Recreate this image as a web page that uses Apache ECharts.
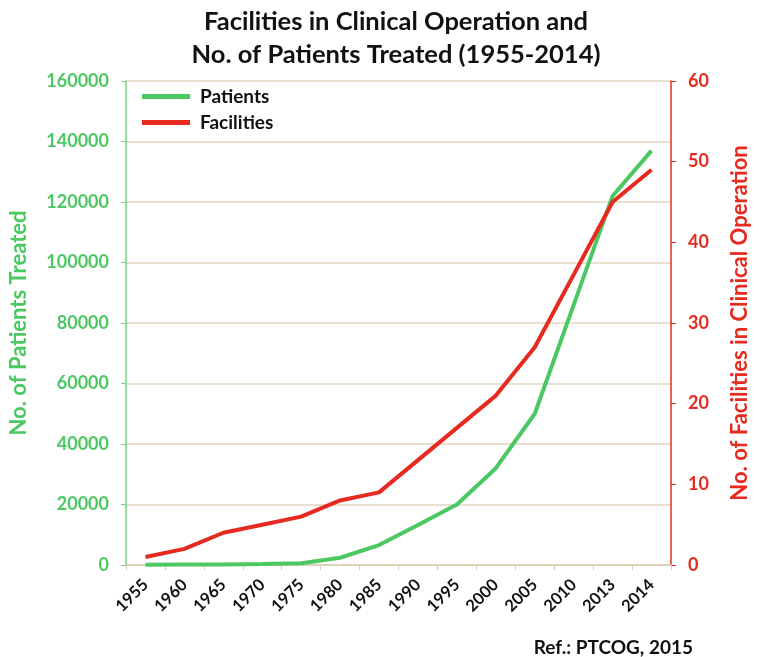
<!DOCTYPE html>
<html>
<head>
<meta charset="utf-8">
<script src="https://cdn.jsdelivr.net/npm/echarts@6/dist/echarts.min.js"></script>
<style>
  html, body { margin: 0; padding: 0; background: #fff; }
  #chart { width: 759px; height: 657px; }
</style>
</head>
<body>
<div id="chart"></div>
<script>
// 年份
var years = ["1955", "1960", "1965", "1970", "1975", "1980", "1985", "1990", "1995", "2000", "2005", "2010", "2013", "2014"];
// 治疗人数
var patients = [50, 150, 200, 350, 600, 2400, 6600, 13200, 20000, 32000, 50000, 86000, 122000, 137000];
// 设施数量
var facilities = [1, 2, 4, 5, 6, 8, 9, 13, 17, 21, 27, 36, 45, 49];

var green = "#4cc862";
var red = "#e62a1f";
var font = "Lato";

var chart = echarts.init(document.getElementById("chart"));
chart.setOption({
  animation: false,
  textStyle: { fontFamily: font },
  title: {
    text: "Facilities in Clinical Operation and\nNo. of Patients Treated (1955-2014)",
    left: 391,
    top: 0,
    textAlign: "center",
    textStyle: {
      fontFamily: font,
      fontSize: 25.5,
      fontWeight: "bold",
      color: "#111",
      lineHeight: 33,
    },
  },
  legend: {
    orient: "vertical",
    left: 137,
    top: 82,
    itemWidth: 48,
    itemHeight: 5,
    itemGap: 7,
    icon: "rect",
    textStyle: { fontFamily: font, fontSize: 19, fontWeight: "bold", color: "#111", padding: [0, 0, 0, 5] },
    data: ["Patients", "Facilities"],
  },
  grid: { left: 124, right: 77, top: 81, bottom: 92 },
  xAxis: {
    type: "category",
    data: years,
    boundaryGap: true,
    axisLine: { lineStyle: { color: "#d9ceb3", width: 1.5 } },
    axisTick: { show: true, length: 5, lineStyle: { color: "#d9ceb3" } },
    axisLabel: {
      rotate: 45,
      interval: 0,
      margin: 17,
      fontFamily: font,
      fontSize: 16.5,
      fontWeight: "bold",
      color: "#111",
    },
  },
  yAxis: [
    {
      type: "value",
      min: 0,
      max: 160000,
      interval: 20000,
      name: "No. of Patients Treated",
      nameLocation: "middle",
      nameRotate: 90,
      nameGap: 96,
      nameTextStyle: { fontFamily: font, fontSize: 22, fontWeight: "bold", color: green },
      axisLine: { show: true, lineStyle: { color: "#6fd67f", width: 1.5 } },
      axisTick: { show: true, length: 5, lineStyle: { color: "#6fd67f" } },
      axisLabel: {
        formatter: function (v) { return String(v); },
        margin: 17,
        fontFamily: font,
        fontSize: 18,
        fontWeight: "bold",
        color: green,
      },
      splitLine: { show: true, lineStyle: { color: "#e3d6c0", width: 1.5 } },
    },
    {
      type: "value",
      min: 0,
      max: 60,
      interval: 10,
      position: "right",
      name: "No. of Facilities in Clinical Operation",
      nameLocation: "middle",
      nameRotate: 90,
      nameGap: 58,
      nameTextStyle: { fontFamily: font, fontSize: 22, fontWeight: "bold", color: red },
      axisLine: { show: true, lineStyle: { color: red, width: 1.5 } },
      axisTick: { show: true, length: 5, lineStyle: { color: red } },
      axisLabel: { margin: 17, fontFamily: font, fontSize: 18, fontWeight: "bold", color: red },
      splitLine: { show: false },
    },
  ],
  graphic: [
    {
      type: "text",
      right: 66,
      top: 638,
      style: { text: "Ref.: PTCOG, 2015", fontFamily: font, fontSize: 19, fontWeight: "bold", fill: "#111" },
    },
  ],
  series: [
    {
      name: "Patients",
      type: "line",
      yAxisIndex: 0,
      data: patients,
      showSymbol: false,
      symbol: "none",
      color: green,
      lineStyle: { width: 4, color: green },
    },
    {
      name: "Facilities",
      type: "line",
      yAxisIndex: 1,
      data: facilities,
      showSymbol: false,
      symbol: "none",
      color: red,
      lineStyle: { width: 4, color: red },
    },
  ],
});
</script>
</body>
</html>
